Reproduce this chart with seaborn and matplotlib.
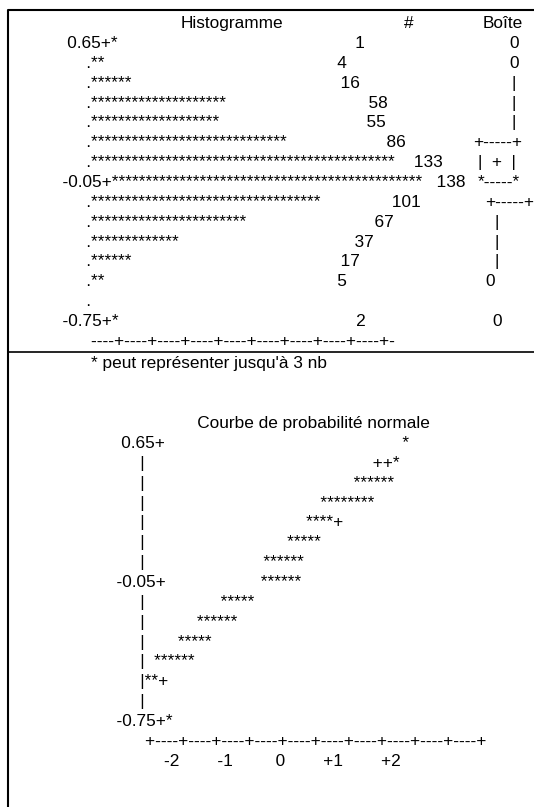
import math
import matplotlib
matplotlib.use("Agg")
import matplotlib.pyplot as plt
import seaborn as sns

# ---- histogram listing (one printed line per class) ----
class_mid = ["0.65", "0.55", "0.45", "0.35", "0.25", "0.15", "0.05", "-0.05",
             "-0.15", "-0.25", "-0.35", "-0.45", "-0.55", "-0.65", "-0.75"]
counts = [1, 4, 16, 58, 55, 86, 133, 138, 101, 67, 37, 17, 5, 0, 2]
shown_mid = ["0.65", "-0.05", "-0.75"]
box_marks = ["0", "0", "|", "|", "|", "+-----+", "|  +  |", "*-----*",
             "+-----+", "|", "|", "|", "0", "", "0"]
per_star = 3

# ---- normal probability plot (one printed line per value) ----
qq_value = ["0.65", "", "", "", "", "", "", "-0.05", "", "", "", "", "", "", "-0.75"]
qq_score = [2.5, 2.3, 1.9, 1.2, 0.9, 0.5, 0.0, -0.5, -0.9, -1.4, -1.8, -2.3, -2.5, None, -2.5]
qq_marks = ["*", "++*", "******", "********", "****+", "*****", "******", "******",
            "*****", "******", "*****", "******", "**+", "", "*"]
qq_ticks = ["-2", "-1", "0", "+1", "+2"]

# ---- layout ----
FS = 12.4
LINE = 19.86
LEFT_TOP = 53
LEFT_BOT = 107
COUNT_COL = 52
BOX_X = [514, 514, 514, 514, 514, 498, 497, 499, 510, 497, 497, 497, 490, 497, 497]


def hist_line(mid, count):
    head = mid.rjust(7) + "+" if mid in shown_mid else " " * 7 + "."
    if count == 0:
        return head
    n = math.ceil(count / per_star)
    num = str(count)
    return head + "*" * n + " " * (COUNT_COL - n - len(num)) + num


def qq_line(value, score, marks):
    head = value.rjust(7) + "+" if value else " " * 7 + "|"
    if score is None:
        return head
    col = int(round((score + 2.5) * 10))
    return head + " " * col + marks


def qq_axis_labels():
    chars = [" "] * 60
    for lab in qq_ticks:
        end = 8 + int(round((float(lab) + 2.5) * 10))
        for k, c in enumerate(lab):
            chars[end - len(lab) + 1 + k] = c
    return "".join(chars).rstrip()


def main():
    sns.set_theme(style="white")
    plt.rcParams["font.family"] = ["Liberation Sans", "DejaVu Sans"]

    fig = plt.figure(figsize=(5.34, 8.07), dpi=100)
    ax = fig.add_axes([0, 0, 1, 1])
    ax.set_xlim(0, 534)
    ax.set_ylim(807, 0)
    ax.axis("off")

    txt = dict(fontsize=FS, va="baseline", color="black")

    # table frame (left and top edges, plus the cell divider)
    ax.plot([8, 8], [10, 807], color="black", lw=1.5, solid_capstyle="butt")
    ax.plot([8, 534], [10, 10], color="black", lw=1.5)
    ax.plot([8, 534], [352, 352], color="black", lw=1.2)

    # histogram block
    ax.text(232, 28, "Histogramme", ha="center", **txt)
    ax.text(409, 28, "#", ha="center", **txt)
    ax.text(503, 28, "Boîte", ha="center", **txt)
    for i, (mid, c) in enumerate(zip(class_mid, counts)):
        y = 48 + i * LINE
        ax.text(LEFT_TOP, y, hist_line(mid, c), ha="left", **txt)
        if box_marks[i]:
            ax.text(BOX_X[i], y, box_marks[i], ha="center", **txt)
    y_axis = 48 + len(class_mid) * LINE
    ax.text(LEFT_TOP, y_axis, " " * 8 + "----+" * 9 + "-", ha="left", **txt)

    ax.text(LEFT_TOP, 368, " " * 8 + "* peut représenter jusqu'à %d nb" % per_star,
            ha="left", **txt)

    # normal probability plot block
    ax.text(LEFT_BOT, 428, " " * 19 + "Courbe de probabilité normale", ha="left", **txt)
    for j, (v, s, m) in enumerate(zip(qq_value, qq_score, qq_marks)):
        ax.text(LEFT_BOT, 448 + j * LINE, qq_line(v, s, m), ha="left", **txt)
    y_qq_axis = 448 + len(qq_value) * LINE
    ax.text(LEFT_BOT, y_qq_axis, " " * 8 + "+----" * 10 + "+", ha="left", **txt)
    ax.text(LEFT_BOT, y_qq_axis + LINE, qq_axis_labels(), ha="left", **txt)

    fig.savefig("out.png", dpi=100)


if __name__ == "__main__":
    main()
